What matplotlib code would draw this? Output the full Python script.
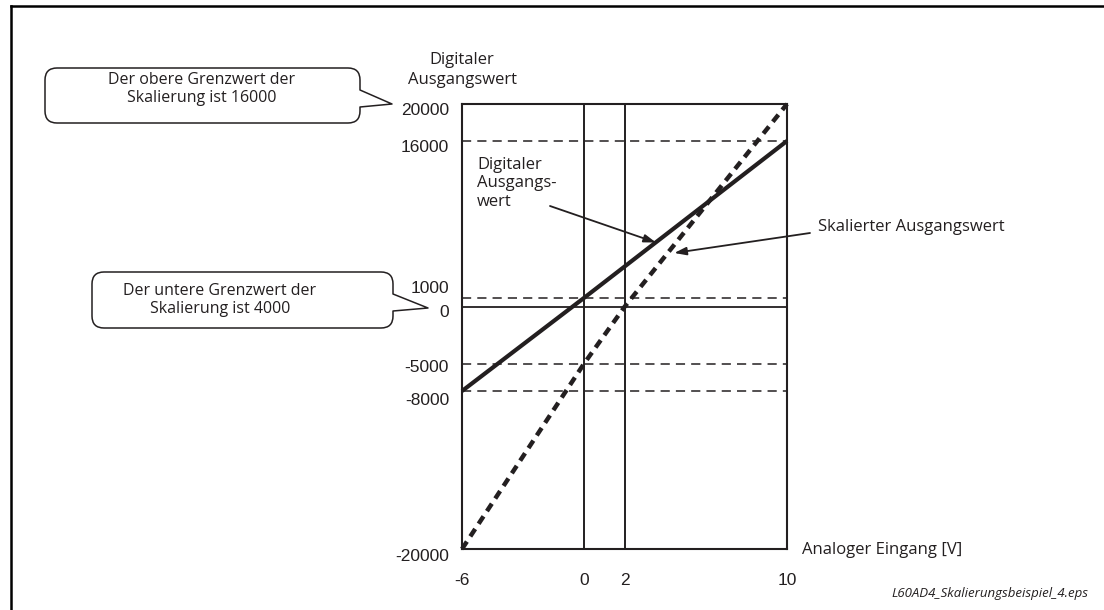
import numpy as np
import matplotlib
matplotlib.use("Agg")
import matplotlib.pyplot as plt
import matplotlib.transforms as mtransforms
from matplotlib.path import Path
from matplotlib.patches import PathPatch
from matplotlib.lines import Line2D

# ---- data -------------------------------------------------------------
# analog input (V)
x_ticks = [-6, 0, 2, 10]
x_tick_labels = ["-6", "0", "2", "10"]

# digital output values marked on the vertical axis
y_ticks = [-20000, -8000, -5000, 0, 1000, 16000, 20000]
y_tick_labels = ["-20000", "-8000", "-5000", "0", "1000", "16000", "20000"]

# digital output value (scaling 4000 ... 16000)
digital_x = [-6, 0, 10]
digital_y = [-8000, 1000, 16000]

# scaled output value
scaled_x = [-6, 0, 2, 10]
scaled_y = [-20000, -5000, 0, 20000]

# reference levels
dashed_levels = [16000, 1000, -5000, -8000]
solid_levels = [0]
vertical_marks = [0, 2]

# ---- style --------------------------------------------------------------
INK = "#231f20"
TEXT_FONT = "Open Sans"
NUM_FONT = "Liberation Sans"
W, H = 1104, 610

# schematic (non-proportional) vertical axis: where each marked value sits,
# as a fraction of the axis height
y_tick_frac = [0.0, 0.355, 0.416, 0.544, 0.564, 0.917, 1.0]


def _piecewise(src, dst):
    src = np.asarray(src, float)
    dst = np.asarray(dst, float)
    s_lo = (dst[1] - dst[0]) / (src[1] - src[0])
    s_hi = (dst[-1] - dst[-2]) / (src[-1] - src[-2])

    def f(v):
        v = np.asarray(v, float)
        out = np.interp(v, src, dst)
        out = np.where(v < src[0], dst[0] + (v - src[0]) * s_lo, out)
        out = np.where(v > src[-1], dst[-1] + (v - src[-1]) * s_hi, out)
        return out
    return f


fwd = _piecewise(y_ticks, y_tick_frac)
inv = _piecewise(y_tick_frac, y_ticks)

fig = plt.figure(figsize=(W / 100, H / 100), dpi=100)
# pixel coordinates (origin top-left) for the surrounding annotations
px = mtransforms.Affine2D().scale(1 / W, -1 / H).translate(0, 1) + fig.transFigure

ax = fig.add_axes([462 / W, 1 - 549 / H, 325 / W, 445 / H])
ax.set_yscale("function", functions=(fwd, inv))
ax.set_xlim(x_ticks[0], x_ticks[-1])
ax.set_ylim(y_ticks[0], y_ticks[-1])
ax.margins(0)

for sp in ax.spines.values():
    sp.set_linewidth(1.5)
    sp.set_color(INK)

# reference lines
for lv in dashed_levels:
    ax.axhline(lv, color=INK, lw=1.1, ls=(0, (6, 4)), zorder=1)
for lv in solid_levels:
    ax.axhline(lv, color=INK, lw=1.3, zorder=1)
for xv in vertical_marks:
    ax.axvline(xv, color=INK, lw=1.4, zorder=1)

# characteristic curves
ax.plot(digital_x, digital_y, color=INK, lw=3.0, solid_capstyle="butt",
        clip_on=False, zorder=3)
ax.plot(scaled_x, scaled_y, color=INK, lw=3.2, ls=(0, (2.0, 1.4)),
        dash_capstyle="butt", clip_on=False, zorder=3)

# x tick labels
ax.set_xticks(x_ticks, labels=x_tick_labels)
ax.tick_params(axis="x", length=0, pad=17, labelsize=12.5, labelcolor=INK)
for t in ax.get_xticklabels():
    t.set_fontfamily(NUM_FONT)

# y tick labels, nudged where neighbouring values crowd each other
ax.set_yticks([])
ax.yaxis.set_minor_locator(matplotlib.ticker.NullLocator())
y_label_shift = {20000: -11, 16000: -11, 1000: 5, 0: -10, -5000: -8,
                 -8000: -14, -20000: -12}
for v, lab in zip(y_ticks, y_tick_labels):
    ax.annotate(lab, xy=(0, v), xycoords=("axes fraction", "data"),
                xytext=(-13, y_label_shift[v]), textcoords="offset pixels",
                ha="right", va="baseline", fontsize=12.5, family=NUM_FONT,
                color=INK, annotation_clip=False)

# axis titles
fig.text(462, 52, "Digitaler\nAusgangswert", transform=px, ha="center",
         va="top", fontsize=12, family=TEXT_FONT, color=INK, linespacing=1.3)
fig.text(802, 554, "Analoger Eingang [V]", transform=px, ha="left",
         va="baseline", fontsize=12, family=TEXT_FONT, color=INK)

# curve labels with arrows
arrow_kw = dict(arrowstyle="-|>,head_length=0.6,head_width=0.2",
                color=INK, lw=1.3, mutation_scale=12, shrinkA=0, shrinkB=0)
fig.text(477, 157, "Digitaler\nAusgangs-\nwert", transform=px, ha="left",
         va="top", fontsize=12, family=TEXT_FONT, color=INK, linespacing=1.2)
ax.annotate("", xy=(3.55, 6300), xycoords="data", xytext=(550, 206),
            textcoords=px, arrowprops=arrow_kw, annotation_clip=False)
fig.text(818, 231, "Skalierter Ausgangswert", transform=px, ha="left",
         va="baseline", fontsize=12, family=TEXT_FONT, color=INK)
ax.annotate("", xy=(4.45, 5300), xycoords="data", xytext=(810, 233),
            textcoords=px, arrowprops=arrow_kw, annotation_clip=False)


# speech-bubble callouts
def callout(x0, y0, x1, y1, t0, t1, tip, r=12):
    M, L, C, Z = Path.MOVETO, Path.LINETO, Path.CURVE3, Path.CLOSEPOLY
    verts = [(x0 + r, y0), (x1 - r, y0), (x1, y0), (x1, y0 + r),
             (x1, t0), tip, (x1, t1), (x1, y1 - r), (x1, y1), (x1 - r, y1),
             (x0 + r, y1), (x0, y1), (x0, y1 - r), (x0, y0 + r), (x0, y0),
             (x0 + r, y0), (x0 + r, y0)]
    codes = [M, L, C, C, L, L, L, L, C, C, L, C, C, L, C, C, Z]
    fig.add_artist(PathPatch(Path(verts, codes), transform=px, fc="white",
                             ec=INK, lw=1.1, joinstyle="round"))


callout(45, 68, 360, 123, 90, 107, (392, 104))
fig.text(202, 89, "Der obere Grenzwert der\nSkalierung ist 16000", transform=px,
         ha="center", va="center", fontsize=11.5, family=TEXT_FONT, color=INK,
         linespacing=1.2)
callout(92, 272, 393, 328, 294, 311, (428, 308))
fig.text(220, 300, "Der untere Grenzwert der\nSkalierung ist 4000", transform=px,
         ha="center", va="center", fontsize=11.5, family=TEXT_FONT, color=INK,
         linespacing=1.2)

# drawing frame (top and left edges) and file caption
fig.add_artist(Line2D([11, W], [6, 6], transform=px, color="black", lw=1.8))
fig.add_artist(Line2D([11, 11], [6, H], transform=px, color="black", lw=1.8))
fig.text(1088, 597, "L60AD4_Skalierungsbeispiel_4.eps", transform=px,
         ha="right", va="baseline", fontsize=9.5, family=TEXT_FONT,
         style="italic", color=INK)

fig.savefig("out.png", dpi=100)
